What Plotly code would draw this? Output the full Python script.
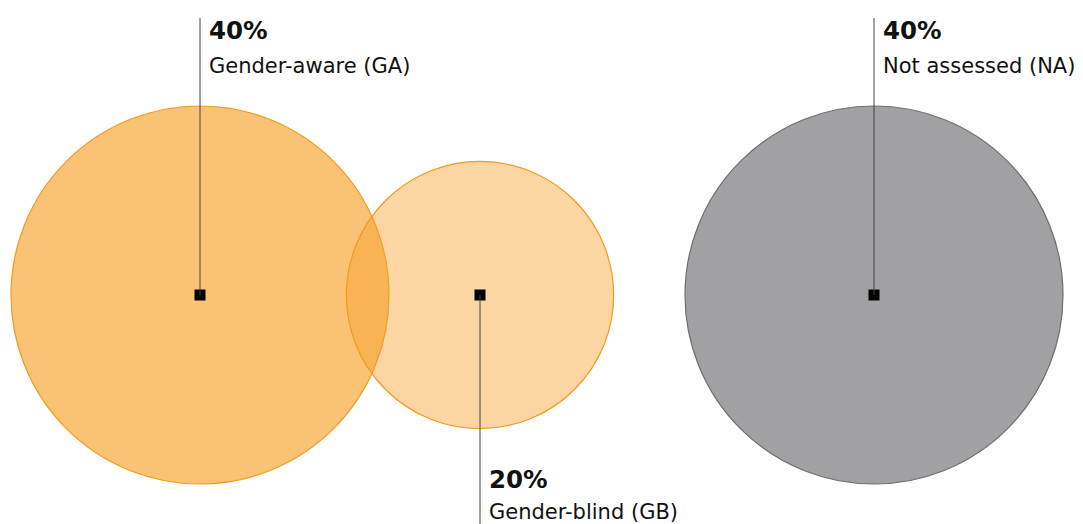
import math
import plotly.graph_objects as go

categories = ["Gender-aware (GA)", "Gender-blind (GB)", "Not assessed (NA)"]
percents = [40, 20, 40]
pct_labels = ["40%", "20%", "40%"]

# layout (pixel space)
W, H = 1083, 524
centers_x = [200, 480, 874]
center_y = 295
scale = 189 / math.sqrt(40)
fills = ["rgba(246,162,44,0.66)", "rgba(246,162,44,0.44)", "#A1A1A3"]
strokes = ["#F39A1E", "#F39A1E", "#6F6F70"]
label_side = ["top", "bottom", "top"]

fig = go.Figure()
shapes = []
annotations = []
for i, cat in enumerate(categories):
    r = scale * math.sqrt(percents[i])
    cx = centers_x[i]
    shapes.append(dict(type="circle", xref="x", yref="y",
                       x0=cx - r, x1=cx + r, y0=center_y - r, y1=center_y + r,
                       fillcolor=fills[i], line=dict(color=strokes[i], width=1.2),
                       layer="below"))
for i, cat in enumerate(categories):
    cx = centers_x[i]
    if label_side[i] == "top":
        y_end, y_pct, y_lab = 18, 30, 66
    else:
        y_end, y_pct, y_lab = 524, 479, 512
    shapes.append(dict(type="line", xref="x", yref="y", x0=cx, x1=cx,
                       y0=center_y, y1=y_end, line=dict(color="#444444", width=1),
                       layer="above"))
    annotations.append(dict(x=cx + 7, y=y_pct, xref="x", yref="y", text="<b>%s</b>" % pct_labels[i],
                            showarrow=False, xanchor="left", yanchor="middle",
                            font=dict(family="DejaVu Sans", size=24.5, color="#111111")))
    annotations.append(dict(x=cx + 7, y=y_lab, xref="x", yref="y", text=cat,
                            showarrow=False, xanchor="left", yanchor="middle",
                            font=dict(family="DejaVu Sans", size=21, color="#111111")))

fig.add_trace(go.Scatter(x=centers_x, y=[center_y] * 3, mode="markers",
                         marker=dict(symbol="square", size=11, color="#000000"),
                         hoverinfo="skip", showlegend=False))

fig.update_layout(width=W, height=H, margin=dict(l=0, r=0, t=0, b=0),
                  paper_bgcolor="white", plot_bgcolor="white",
                  shapes=shapes, annotations=annotations, showlegend=False,
                  xaxis=dict(range=[0, W], visible=False, fixedrange=True),
                  yaxis=dict(range=[H, 0], visible=False, fixedrange=True))
fig.write_html("out.html", config={"displayModeBar": False})

with open("out.html", "r", encoding="utf-8") as f:
    html = f.read()
html = html.replace("<head>", "<head><style>html,body{margin:0;padding:0;overflow:hidden;}</style>", 1)
with open("out.html", "w", encoding="utf-8") as f:
    f.write(html)
